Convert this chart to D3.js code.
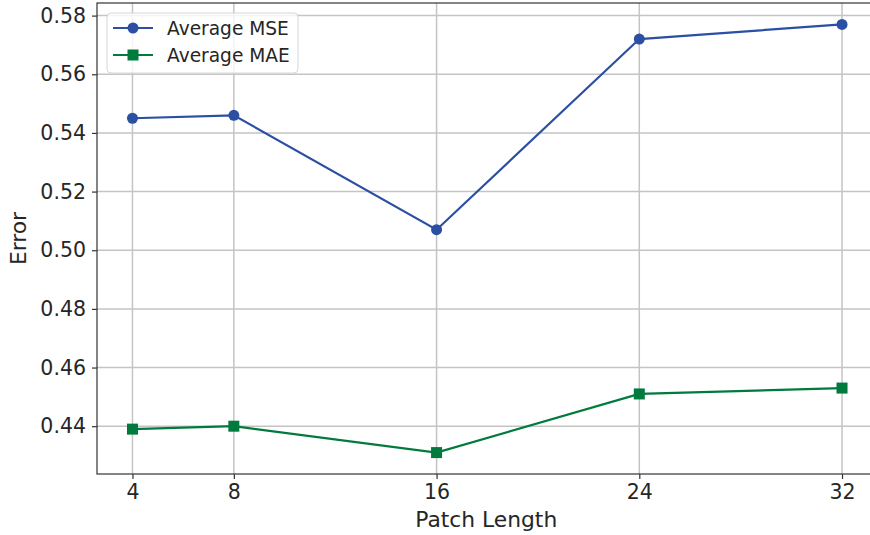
<!DOCTYPE html>
<html>
<head>
<meta charset="utf-8">
<script src="https://cdn.jsdelivr.net/npm/d3@7"></script>
<style>
  body { margin: 0; background: #fff; }
  svg { display: block; font-family: "DejaVu Sans", sans-serif; }
</style>
</head>
<body>
<script>
// data
const patchLengths = [4, 8, 16, 24, 32];
const avgMSE = [0.545, 0.546, 0.507, 0.572, 0.577];
const avgMAE = [0.439, 0.440, 0.431, 0.451, 0.453];
const yTicks = [0.44, 0.46, 0.48, 0.50, 0.52, 0.54, 0.56, 0.58];

const W = 870, H = 535;
const plot = {left: 97, top: 3, right: 877.5, bottom: 474};

const svg = d3.select("body").append("svg")
    .attr("width", W)
    .attr("height", H);

// scales (matplotlib style 5% margins)
const x = d3.scaleLinear()
    .domain([2.6, 33.4])
    .range([plot.left, plot.right]);

const y = d3.scaleLinear()
    .domain([0.4237, 0.5843])
    .range([plot.bottom, plot.top]);

// grid
const grid = svg.append("g");
grid.selectAll("line.gx")
    .data(patchLengths)
    .enter().append("line")
    .attr("x1", d => x(d)).attr("x2", d => x(d))
    .attr("y1", plot.top).attr("y2", plot.bottom)
    .attr("stroke", "#c4c4c4").attr("stroke-width", 1.5);
grid.selectAll("line.gy")
    .data(yTicks)
    .enter().append("line")
    .attr("x1", plot.left).attr("x2", plot.right)
    .attr("y1", d => y(d)).attr("y2", d => y(d))
    .attr("stroke", "#c4c4c4").attr("stroke-width", 1.5);

// axes
const xAxis = svg.append("g")
    .attr("transform", `translate(0,${plot.bottom})`)
    .call(d3.axisBottom(x).tickValues(patchLengths).tickSize(5).tickPadding(5).tickSizeOuter(0));
const yAxis = svg.append("g")
    .attr("transform", `translate(${plot.left},0)`)
    .call(d3.axisLeft(y).tickValues(yTicks).tickFormat(d3.format(".2f")).tickSize(5).tickPadding(6).tickSizeOuter(0));

[xAxis, yAxis].forEach(a => {
  a.select(".domain").remove();
  a.selectAll("line").attr("stroke", "#333").attr("stroke-width", 1.2);
  a.selectAll("text").attr("fill", "#262626").style("font-size", "20.5px")
    .style("font-family", "DejaVu Sans");
});

// spines
svg.append("rect")
    .attr("x", plot.left).attr("y", plot.top)
    .attr("width", plot.right - plot.left).attr("height", plot.bottom - plot.top)
    .attr("fill", "none").attr("stroke", "#333").attr("stroke-width", 1.2);

// lines
const line = (vals) => d3.line()
    .x((d, i) => x(patchLengths[i]))
    .y(d => y(d))(vals);

const mseColor = "#2b4fa3", maeColor = "#007a3d";

svg.append("path").attr("d", line(avgMSE))
    .attr("fill", "none").attr("stroke", mseColor).attr("stroke-width", 2.2);
svg.append("path").attr("d", line(avgMAE))
    .attr("fill", "none").attr("stroke", maeColor).attr("stroke-width", 2.2);

svg.selectAll("circle.mse")
    .data(avgMSE)
    .enter().append("circle")
    .attr("cx", (d, i) => x(patchLengths[i]))
    .attr("cy", d => y(d))
    .attr("r", 5.5)
    .attr("fill", mseColor);

svg.selectAll("rect.mae")
    .data(avgMAE)
    .enter().append("rect")
    .attr("x", (d, i) => x(patchLengths[i]) - 5.5)
    .attr("y", d => y(d) - 5.5)
    .attr("width", 11).attr("height", 11)
    .attr("fill", maeColor);

// axis labels
svg.append("text")
    .attr("x", (plot.left + plot.right) / 2 - 1)
    .attr("y", 527)
    .attr("text-anchor", "middle")
    .attr("fill", "#262626")
    .style("font-size", "21.8px")
    .text("Patch Length");

svg.append("text")
    .attr("transform", `translate(26,${(plot.top + plot.bottom) / 2}) rotate(-90)`)
    .attr("text-anchor", "middle")
    .attr("fill", "#262626")
    .style("font-size", "21.8px")
    .text("Error");

// legend
const legend = svg.append("g");
legend.append("rect")
    .attr("x", 107).attr("y", 13)
    .attr("width", 191).attr("height", 60)
    .attr("rx", 4)
    .attr("fill", "#fff").attr("fill-opacity", 0.8)
    .attr("stroke", "#d6d6d6");

const items = [
  {name: "Average MSE", color: mseColor, shape: "circle"},
  {name: "Average MAE", color: maeColor, shape: "square"}
];
items.forEach((it, i) => {
  const cy = 28 + i * 27;
  legend.append("line")
      .attr("x1", 113).attr("x2", 153)
      .attr("y1", cy).attr("y2", cy)
      .attr("stroke", it.color).attr("stroke-width", 2.2);
  if (it.shape === "circle") {
    legend.append("circle").attr("cx", 133).attr("cy", cy).attr("r", 5.5).attr("fill", it.color);
  } else {
    legend.append("rect").attr("x", 127.5).attr("y", cy - 5.5)
        .attr("width", 11).attr("height", 11).attr("fill", it.color);
  }
  legend.append("text")
      .attr("x", 167).attr("y", cy + 6.5)
      .attr("fill", "#262626")
      .style("font-size", "18.6px")
      .text(it.name);
});
</script>
</body>
</html>
